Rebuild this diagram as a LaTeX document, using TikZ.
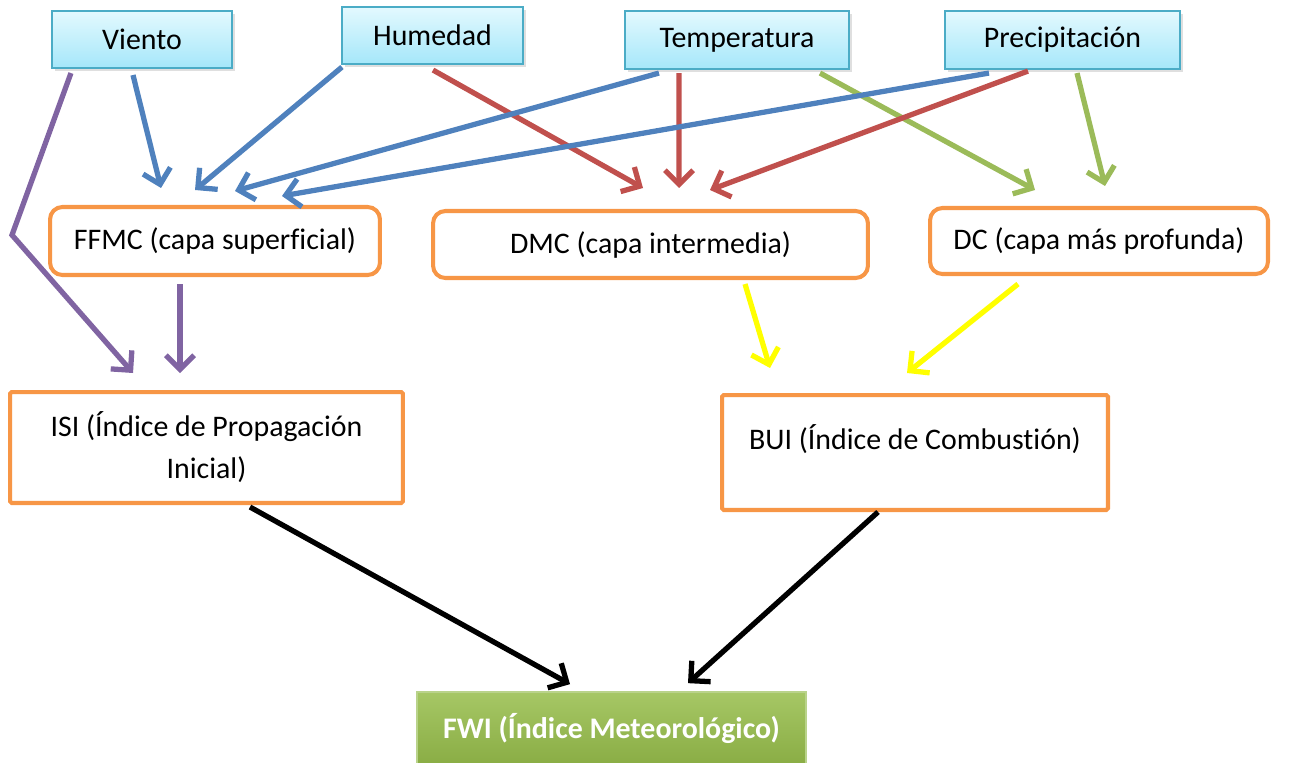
\documentclass[tikz,border=0pt]{standalone}
\usepackage{fontspec}
\setmainfont{Carlito}[Ligatures={NoCommon}]
\usetikzlibrary{arrows.meta, positioning, calc, shadows}

\definecolor{skyTop}{HTML}{E3F9FE}
\definecolor{skyBot}{HTML}{A5E7FA}
\definecolor{skyLine}{HTML}{4BACC6}
\definecolor{orangeLine}{HTML}{F79646}
\definecolor{fwiTop}{HTML}{A6C765}
\definecolor{fwiBot}{HTML}{8AAD45}
\definecolor{fwiLine}{HTML}{B9D38A}
\definecolor{arrBlue}{HTML}{4F81BD}
\definecolor{arrRed}{HTML}{C0504D}
\definecolor{arrGreen}{HTML}{9BBB59}
\definecolor{arrPurple}{HTML}{8064A2}
\definecolor{arrYellow}{HTML}{FFFF00}

\tikzstyle{param} = [rectangle, draw=skyLine, line width=1.2pt, top color=skyTop, bottom color=skyBot, text centered, minimum height=1.14cm, drop shadow={opacity=0.25, shadow xshift=1.5pt, shadow yshift=-1.5pt}]
\tikzstyle{layer} = [rectangle, draw=orangeLine, line width=2.3pt, fill=white, rounded corners=7pt, text centered]
\tikzstyle{index} = [rectangle, draw=orangeLine, line width=2.3pt, fill=white, rounded corners=1pt, align=center]
\tikzstyle{result} = [rectangle, draw=fwiLine, line width=1pt, top color=fwiTop, bottom color=fwiBot, text=white, font=\bfseries, text centered]
\tikzstyle{line} = [draw, line width=3pt, -{Straight Barb[length=8pt, width=16pt]}]

\begin{document}
\fontsize{17}{24}\selectfont
\begin{tikzpicture}[x=0.02cm, y=-0.02cm]
        \useasboundingbox (0,0) rectangle (1300,762);

        \node (viento) [param, minimum width=3.6cm] at (142,39.5) {Viento};
        \node (humedad) [param, minimum width=3.62cm] at (432.5,35.5) {Humedad};
        \node (temp) [param, minimum width=4.48cm, minimum height=1.16cm] at (737,40) {Temperatura};
        \node (precip) [param, minimum width=4.7cm, minimum height=1.16cm] at (1062.5,40) {Precipitación};

        \node (ffmc) [layer, minimum width=6.6cm, minimum height=1.36cm] at (215,241) {FFMC (capa superficial)};
        \node (dmc) [layer, minimum width=8.7cm, minimum height=1.34cm] at (650.5,244.5) {DMC (capa intermedia)};
        \node (dc) [layer, minimum width=6.76cm, minimum height=1.32cm] at (1099,241) {DC (capa más profunda)};

        \node (isi) [index, minimum width=7.86cm, minimum height=2.22cm] at (206.5,447.5) {ISI (Índice de Propagación\\Inicial)};
        \node (bui) [index, minimum width=7.72cm, minimum height=2.3cm, text depth=18pt] at (915,452.5) {BUI (Índice de Combustión)};

        \node (fwi) [result, minimum width=7.78cm, minimum height=1.44cm] at (611.5,728) {FWI (Índice Meteorológico)};

        % viento
        \path [line, arrPurple] ($(viento.south west)+(20,4)$) -- (12,235) -- ($(isi.north west)+(125,-17)$);
        \path [line, arrBlue] ($(viento.south)+(-9,6)$) -- ($(ffmc.north west)+(113,-17)$);

        % humedad
        \path [line, arrBlue] ($(humedad.south west)+(1,2)$) -- ($(ffmc.north west)+(147,-15)$);
        \path [line, arrRed] ($(humedad.south)+(0.5,5)$) -- ($(dmc.north)+(-7.5,-21)$);

        % temperatura
        \path [line, arrBlue] ($(temp.south west)+(35,3)$) -- ($(ffmc.north)+(20,-14)$);
        \path [line, arrRed] ($(temp.south)+(-58,3)$) -- ($(dmc.north)+(28.5,-21)$);
        \path [line, arrGreen] ($(temp.south)+(83,3)$) -- ($(dc.north west)+(107,-16)$);

        % precipitacion
        \path [line, arrBlue] ($(precip.south west)+(45,3)$) -- ($(ffmc.north)+(67,-9)$);
        \path [line, arrRed] ($(precip.south)+(-34.5,1)$) -- ($(dmc.north)+(59.5,-19)$);
        \path [line, arrGreen] ($(precip.south)+(14.5,3)$) -- ($(dc.north)+(6,-20)$);

        % capas -> indices
        \path [line, arrPurple] ($(ffmc.south)+(-35,7)$) -- ($(isi.north)+(-26.5,-17)$);
        \path [line, arrYellow] ($(dmc.south)+(94.5,4)$) -- ($(bui.north)+(-145,-25)$);
        \path [line, arrYellow] ($(dc.south)+(-81,8)$) -- ($(bui.north)+(-8,-20)$);

        % indices -> fwi
        \path [line, black] ($(isi.south)+(43.5,2)$) -- ($(fwi.north)+(-41.5,-7)$);
        \path [line, black] ($(bui.south)+(-37,0)$) -- ($(fwi.north)+(76.5,-8)$);

    \end{tikzpicture}
\end{document}
